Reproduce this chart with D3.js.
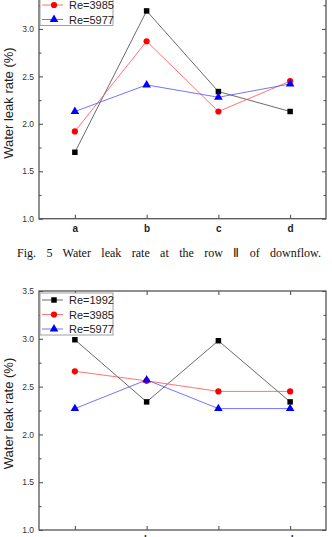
<html>
<head>
  <meta charset="utf-8" />
  <script src="https://cdnjs.cloudflare.com/ajax/libs/d3/7.8.5/d3.min.js"></script>
  <style>
    body { margin: 0; background: #fff; }
    svg { display: block; }
    .axis path.domain { stroke: #555; stroke-width: 1.3; }
    .axis .tick line { stroke: #555; stroke-width: 1.1; }
    .yaxis .tick text { fill: #333; font-family: Arial, "Liberation Sans", sans-serif; font-size: 8.5px; }
    .xaxis .tick text { fill: #222; font-family: Arial, "Liberation Sans", sans-serif; font-size: 10px; font-weight: bold; }
    .noLabels .tick text { display: none; }
  </style>
</head>
<body>
  <svg width="332" height="537"></svg>
  <script>
    var categories = ["a", "b", "c", "d"]
    var seriesNames = ["Re=1992", "Re=3985", "Re=5977"]
    var yTicks = [1.0, 1.5, 2.0, 2.5, 3.0, 3.5]
    var yMinorTicks = [1.25, 1.75, 2.25, 2.75, 3.25]

    // Fig. 5 (row II) - upper chart
    var upper1992 = [1.70, 3.19, 2.34, 2.13]
    var upper3985 = [1.92, 2.87, 2.13, 2.45]
    var upper5977 = [2.13, 2.41, 2.28, 2.42]

    // next figure - lower chart
    var lower1992 = [2.99, 2.34, 2.98, 2.34]
    var lower3985 = [2.66, 2.56, 2.45, 2.45]
    var lower5977 = [2.27, 2.57, 2.27, 2.27]

    var caption = "Fig. 5 Water leak rate at the row \u2161 of downflow."

    var colors = ["#000000", "#ff0000", "#0000ff"]
    var lineColors = ["#444444", "#ff5050", "#5050ff"]
    var shapes = [d3.symbolSquare, d3.symbolCircle, d3.symbolTriangle]
    var shapeSizes = [30, 30, 32]

    var svg = d3.select("svg")

    function drawChart(top, bottom, seriesData) {
      var g = svg.append("g")
      var left = 39, right = 326

      var x = d3.scalePoint().domain(categories).range([left, right]).padding(0.5)
      var y = d3.scaleLinear().domain([1, 3.5]).range([bottom, top])

      // frame + axes
      g.append("g").attr("class", "axis yaxis")
        .attr("transform", "translate(" + left + ",0)")
        .call(d3.axisLeft(y).tickValues(yTicks).tickFormat(d3.format(".1f")).tickSize(-4).tickSizeOuter(0).tickPadding(5))
      g.append("g").attr("class", "axis noLabels")
        .attr("transform", "translate(" + left + ",0)")
        .call(d3.axisLeft(y).tickValues(yMinorTicks).tickSize(-2.5).tickSizeOuter(0))
      g.append("g").attr("class", "axis noLabels")
        .attr("transform", "translate(" + right + ",0)")
        .call(d3.axisRight(y).tickValues(yTicks).tickSize(-4).tickSizeOuter(0))
      g.append("g").attr("class", "axis noLabels")
        .attr("transform", "translate(" + right + ",0)")
        .call(d3.axisRight(y).tickValues(yMinorTicks).tickSize(-2.5).tickSizeOuter(0))
      g.append("g").attr("class", "axis xaxis")
        .attr("transform", "translate(0," + bottom + ")")
        .call(d3.axisBottom(x).tickSize(-4).tickSizeOuter(0).tickPadding(6))
      g.append("g").attr("class", "axis noLabels")
        .attr("transform", "translate(0," + top + ")")
        .call(d3.axisTop(x).tickSize(-4).tickSizeOuter(0))
      g.selectAll(".domain").attr("d", null)
      g.append("rect")
        .attr("x", left).attr("y", top)
        .attr("width", right - left).attr("height", bottom - top)
        .attr("fill", "none").attr("stroke", "#555").attr("stroke-width", 1.3)

      // y title
      g.append("text")
        .attr("transform", "translate(13," + ((top + bottom) / 2 + 3) + ") rotate(-90)")
        .attr("text-anchor", "middle")
        .style("font-family", "Arial, 'Liberation Sans', sans-serif")
        .style("font-size", "13px")
        .style("fill", "#222")
        .text("Water leak rate (%)")

      var line = d3.line().x((d, i) => x(categories[i])).y(d => y(d))

      seriesData.forEach(function(vals, k) {
        g.append("path")
          .attr("d", line(vals))
          .attr("fill", "none")
          .attr("stroke", lineColors[k])
          .attr("stroke-width", 0.8)
        g.selectAll(null).data(vals).enter()
          .append("path")
            .attr("transform", (d, i) => "translate(" + x(categories[i]) + "," + y(d) + ")")
            .attr("d", d3.symbol().type(shapes[k]).size(shapeSizes[k]))
            .attr("fill", colors[k])
      })

      // legend
      var lg = g.append("g").attr("transform", "translate(40," + (y(3.5) + 2) + ")")
      lg.append("rect")
        .attr("x", 0).attr("y", 0).attr("width", 73).attr("height", 42)
        .attr("fill", "#fff").attr("stroke", "#888").attr("stroke-width", 0.8)
      seriesNames.forEach(function(name, k) {
        var ly = 7 + k * 14.5
        lg.append("line")
          .attr("x1", 2).attr("x2", 23).attr("y1", ly).attr("y2", ly)
          .attr("stroke", lineColors[k]).attr("stroke-width", 0.8)
        lg.append("path")
          .attr("transform", "translate(14," + ly + ")")
          .attr("d", d3.symbol().type(shapes[k]).size(shapeSizes[k]))
          .attr("fill", colors[k])
        lg.append("text")
          .attr("x", 29).attr("y", ly + 4)
          .style("font-family", "Arial, 'Liberation Sans', sans-serif")
          .style("font-size", "11px")
          .style("fill", "#222")
          .text(name)
      })
    }

    drawChart(-18.5, 218.7, [upper1992, upper3985, upper5977])

    svg.append("text")
      .attr("x", 17).attr("y", 257)
      .style("font-family", "'Times New Roman', 'Liberation Serif', serif")
      .style("font-size", "12px")
      .style("word-spacing", "7.4px")
      .style("fill", "#111")
      .text(caption)

    drawChart(291, 530, [lower1992, lower3985, lower5977])
  </script>
</body>
</html>
